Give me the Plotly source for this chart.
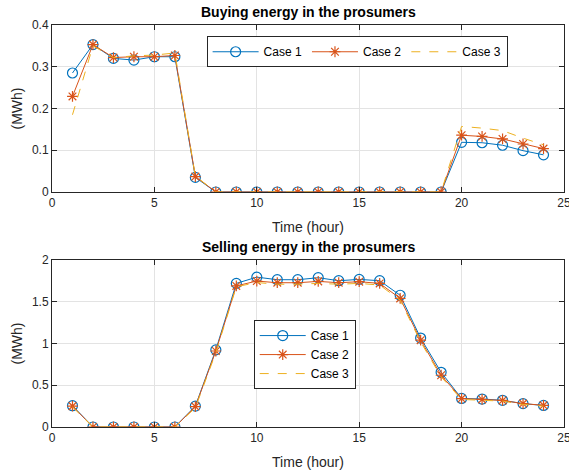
import plotly.graph_objects as go

hours = list(range(1, 25))
series_names = ["Case 1", "Case 2", "Case 3"]

buy_case1 = [0.285, 0.353, 0.320, 0.316, 0.324, 0.324, 0.035] + [0.0] * 12 + [0.119, 0.118, 0.112, 0.099, 0.089]
buy_case2 = [0.229, 0.353, 0.322, 0.324, 0.324, 0.327, 0.037] + [0.0] * 12 + [0.136, 0.133, 0.127, 0.115, 0.104]
buy_case3 = [0.185, 0.350, 0.322, 0.326, 0.328, 0.333, 0.038] + [0.0] * 12 + [0.157, 0.153, 0.147, 0.129, 0.113]

sell_case1 = [0.255, 0, 0, 0, 0, 0, 0.25, 0.924, 1.72, 1.795, 1.764, 1.764, 1.788, 1.752, 1.768, 1.752,
              1.578, 1.065, 0.655, 0.342, 0.335, 0.32, 0.28, 0.258]
sell_case2 = [0.25, 0, 0, 0, 0, 0, 0.245, 0.91, 1.69, 1.748, 1.728, 1.728, 1.744, 1.728, 1.74, 1.72,
              1.54, 1.04, 0.62, 0.34, 0.33, 0.318, 0.28, 0.26]
sell_case3 = [0.24, 0, 0, 0, 0, 0, 0.23, 0.89, 1.68, 1.73, 1.71, 1.71, 1.72, 1.71, 1.72, 1.70,
              1.52, 1.02, 0.60, 0.33, 0.32, 0.31, 0.27, 0.25]

titles = ["Buying energy in the prosumers", "Selling energy in the prosumers"]
x_title = "Time (hour)"
y_title = "(MWh)"

C1, C2, C3 = "#0072BD", "#D95319", "#EDB120"
FONT = "Liberation Sans, Arial, sans-serif"

fig = go.Figure()

def add_set(ys, xa, ya, legend):
    y1, y2, y3 = ys
    fig.add_trace(go.Scatter(x=hours, y=y1, name=series_names[0], xaxis=xa, yaxis=ya, legend=legend,
                             mode="lines+markers", line=dict(color=C1, width=1),
                             marker=dict(symbol="circle-open", size=10, color=C1, line=dict(width=1.2))))
    fig.add_trace(go.Scatter(x=hours, y=y2, name=series_names[1], xaxis=xa, yaxis=ya, legend=legend,
                             mode="lines+markers", line=dict(color=C2, width=1),
                             marker=dict(symbol="asterisk-open", size=9, color=C2, line=dict(width=1.2, color=C2))))
    fig.add_trace(go.Scatter(x=hours, y=y3, name=series_names[2], xaxis=xa, yaxis=ya, legend=legend,
                             mode="lines", line=dict(color=C3, width=1, dash="dash")))

add_set((buy_case1, buy_case2, buy_case3), "x", "y", "legend")
add_set((sell_case1, sell_case2, sell_case3), "x2", "y2", "legend2")

axis_common = dict(showgrid=True, gridcolor="#e3e3e3", gridwidth=1, zeroline=False,
                   showline=True, linecolor="#262626", linewidth=1, mirror="ticks",
                   ticks="inside", ticklen=5, tickcolor="#262626", automargin=False,
                   ticklabeloverflow="allow",
                   tickfont=dict(family=FONT, size=12, color="#262626"))

top_dom = [0.5846, 1.0]
bot_dom = [0.0, 0.4154]

fig.update_layout(
    width=569, height=471,
    margin=dict(l=52, r=5, t=25, b=44, autoexpand=False),
    paper_bgcolor="white", plot_bgcolor="white",
    font=dict(family=FONT, size=12, color="#262626"),
    xaxis=dict(domain=[0, 1], anchor="y", range=[0, 25], tickvals=[0, 5, 10, 15, 20, 25],
               title=dict(text=x_title, font=dict(size=14, family=FONT), standoff=12), **axis_common),
    yaxis=dict(domain=top_dom, anchor="x", range=[0, 0.4], tickvals=[0, 0.1, 0.2, 0.3, 0.4],
               title=dict(text=y_title, font=dict(size=14, family=FONT), standoff=6), **axis_common),
    xaxis2=dict(domain=[0, 1], anchor="y2", range=[0, 25], tickvals=[0, 5, 10, 15, 20, 25],
                title=dict(text=x_title, font=dict(size=14, family=FONT), standoff=12), **axis_common),
    yaxis2=dict(domain=bot_dom, anchor="x2", range=[0, 2], tickvals=[0, 0.5, 1, 1.5, 2],
                title=dict(text=y_title, font=dict(size=14, family=FONT), standoff=6), **axis_common),
    legend=dict(orientation="h", x=0.302, y=0.972, xanchor="left", yanchor="top",
                bordercolor="#262626", borderwidth=1, bgcolor="white",
                font=dict(family=FONT, size=12, color="#000000"), itemwidth=46,
                tracegroupgap=0, traceorder="normal"),
    legend2=dict(orientation="v", x=0.394, y=0.266, xanchor="left", yanchor="top",
                 bordercolor="#262626", borderwidth=1, bgcolor="white",
                 font=dict(family=FONT, size=12, color="#000000"), itemwidth=46,
                 tracegroupgap=0, traceorder="normal"),
    annotations=[
        dict(text="<b>" + titles[0] + "</b>", x=0.5, y=1.0, xref="paper", yref="paper",
             xanchor="center", yanchor="bottom", yshift=3, showarrow=False,
             font=dict(family=FONT, size=14, color="#000000")),
        dict(text="<b>" + titles[1] + "</b>", x=0.5, y=bot_dom[1], xref="paper", yref="paper",
             xanchor="center", yanchor="bottom", yshift=3, showarrow=False,
             font=dict(family=FONT, size=14, color="#000000")),
    ],
)

fig.write_html("out.html", config={"displayModeBar": False},
               post_script="document.body.style.margin='0';document.body.style.overflow='hidden';")
